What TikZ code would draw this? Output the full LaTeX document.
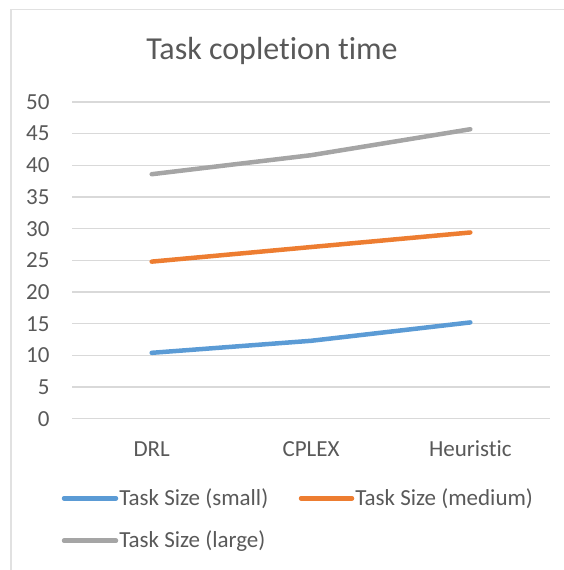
\documentclass[tikz,border=0pt]{standalone}
\usepackage{fontspec}
\setmainfont[Ligatures=NoCommon]{Carlito}
\usetikzlibrary{positioning}

\definecolor{txtgray}{HTML}{595959}
\definecolor{gridgray}{HTML}{D9D9D9}
\definecolor{smallblue}{HTML}{5B9BD5}
\definecolor{medorange}{HTML}{ED7D31}
\definecolor{largegray}{HTML}{A5A5A5}

\tikzset{
  gridline/.style={gridgray, line width=1.3pt},
  series/.style={line width=4.5pt, line cap=round, line join=round},
  ticklabel/.style={text=txtgray, font=\fontsize{23}{27}\selectfont},
  legendlabel/.style={text=txtgray, font=\fontsize{23}{27}\selectfont, right, inner sep=1pt}
}

\begin{document}
\begin{tikzpicture}[x=1pt, y=-1pt]
  \useasboundingbox (0,0) rectangle (564,570);
  % chart frame
  \draw[gridgray!80, line width=1.3pt] (11,570) -- (11,9.5) -- (564,9.5);
  \node[text=txtgray, font=\fontsize{32}{38}\selectfont] (title) at (272,51) {Task copletion time};
  % grid and value axis
  \foreach \v in {0,5,...,50} {
    \draw[gridline] (72,{418.7-6.334*\v}) -- (550,{418.7-6.334*\v});
    \node[ticklabel, anchor=east] (tick\v) at (53,{418.7-6.334*\v}) {\v};
  }
  % categories
  \node[ticklabel] (drl) at (151.7,449) {DRL};
  \node[ticklabel] (cplex) at (311,449) {CPLEX};
  \node[ticklabel] (heur) at (470.3,449) {Heuristic};
  % data points
  \foreach \n/\a/\b/\c in {s/10.4/12.3/15.2, m/24.8/27.1/29.4, l/38.6/41.6/45.7} {
    \coordinate (\n1) at (151.7,{418.7-6.334*\a});
    \coordinate (\n2) at (311,{418.7-6.334*\b});
    \coordinate (\n3) at (470.3,{418.7-6.334*\c});
  }
  \draw[series, smallblue] (s1) -- (s2) -- (s3);
  \draw[series, medorange] (m1) -- (m2) -- (m3);
  \draw[series, largegray] (l1) -- (l2) -- (l3);
  % legend
  \coordinate (lgs1) at (64,498.3);
  \coordinate (lgs2) at (116,498.3);
  \coordinate (lgm1) at (301,498.3);
  \coordinate (lgm2) at (352,498.3);
  \coordinate (lgl1) at (64,540.7);
  \coordinate (lgl2) at (116,540.7);
  \draw[series, smallblue] (lgs1) -- (lgs2) node[legendlabel] (lgstext) {Task Size (small)};
  \draw[series, medorange] (lgm1) -- (lgm2) node[legendlabel] (lgmtext) {Task Size (medium)};
  \draw[series, largegray] (lgl1) -- (lgl2) node[legendlabel] (lgltext) {Task Size (large)};
\end{tikzpicture}
\end{document}
